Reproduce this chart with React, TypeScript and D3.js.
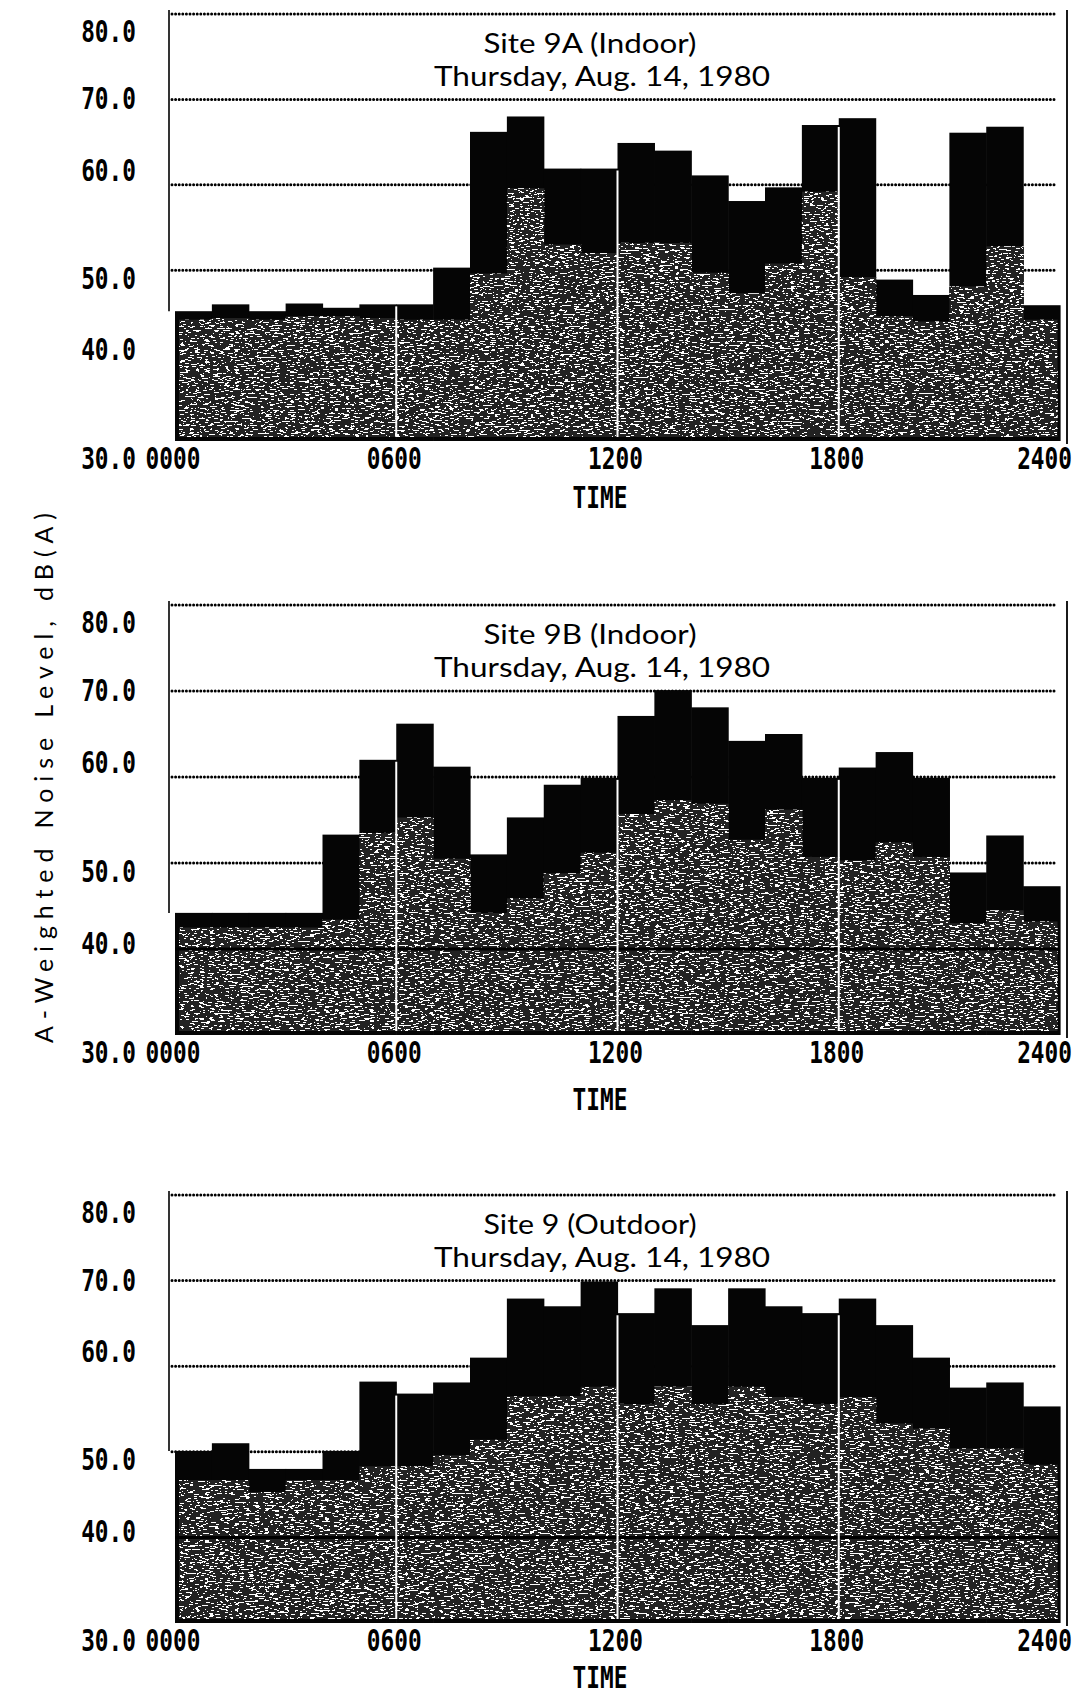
import React from "react";
import * as d3 from "d3";

// hourly bars, 0000..2300
const hours = d3.range(24);
const xTickHours = [0, 6, 12, 18, 24];
const xTickLabels = ["0000", "0600", "1200", "1800", "2400"];
const yTickLabels = ["80.0", "70.0", "60.0", "50.0", "40.0", "30.0"];
// the typed labels do not sit exactly on their levels
const yTickAt = [78.0, 70.1, 61.7, 49.1, 40.7, 28.0];
const gridLevels = [80, 70, 60, 50];

// Site 9A (Indoor): top of black bar and top of the grey part, dB(A)
const site9ATotal = [45.2, 46.0, 45.2, 46.1, 45.6, 46.0, 46.0, 50.3, 66.2, 68.0, 61.9, 61.9, 64.9, 64.0, 61.1, 58.1, 59.7, 67.0, 67.8, 48.9, 47.1, 66.1, 66.8, 45.9];
const site9ALower = [44.2, 44.4, 44.2, 44.6, 44.6, 44.4, 44.2, 44.2, 49.6, 59.6, 53.0, 52.0, 53.2, 53.2, 49.7, 47.3, 50.8, 59.2, 49.2, 44.6, 44.0, 48.1, 52.8, 44.2];

// Site 9B (Indoor)
const site9BTotal = [44.2, 44.2, 44.2, 44.2, 53.3, 62.0, 66.2, 61.2, 51.0, 55.3, 59.1, 59.9, 67.1, 70.1, 68.1, 64.2, 65.0, 59.9, 61.1, 62.9, 59.9, 48.9, 53.2, 47.3];
const site9BLower = [42.5, 42.5, 42.5, 42.5, 43.4, 53.5, 55.3, 50.5, 44.2, 45.9, 48.8, 51.2, 55.7, 57.3, 56.9, 52.7, 56.2, 50.7, 50.3, 52.4, 50.7, 43.0, 44.5, 43.2];

// Site 9 (Outdoor)
const site9Total = [50.1, 51.0, 48.0, 48.0, 50.1, 58.2, 56.8, 58.1, 61.0, 67.9, 67.0, 69.9, 66.2, 69.1, 64.8, 69.1, 67.0, 66.2, 67.9, 64.8, 61.0, 57.5, 58.1, 55.3];
const site9Lower = [46.7, 46.7, 45.3, 46.7, 46.7, 48.3, 48.3, 49.6, 51.4, 56.5, 56.5, 57.6, 55.6, 57.6, 55.6, 57.6, 56.4, 55.6, 56.4, 53.3, 52.7, 50.4, 50.4, 48.5];

const siteTitles = ["Site 9A (Indoor)", "Site 9B (Indoor)", "Site 9 (Outdoor)"];
const dateLine = "Thursday, Aug. 14, 1980";
const yTitle = "A-Weighted Noise Level, dB(A)";

const panels = [
  { title: siteTitles[0], total: site9ATotal, lower: site9ALower, top: 14, bottom: 441, timeGap: 56, rule40: false },
  { title: siteTitles[1], total: site9BTotal, lower: site9BLower, top: 605, bottom: 1035, timeGap: 64, rule40: true },
  { title: siteTitles[2], total: site9Total, lower: site9Lower, top: 1195, bottom: 1623, timeGap: 54, rule40: true },
];

// typewriter-style labels: bold mono squeezed sideways
const tickFont = '"DejaVu Sans Mono", "Liberation Mono", monospace';
const squeeze = 0.76;
const titleFont = 'Lato, "DejaVu Sans", sans-serif';

function Tick({ x, y, anchor, children }: { x: number; y: number; anchor: string; children: string }) {
  return (
    <text transform={`translate(${x},${y}) scale(${squeeze},1)`} dy="0.36em" textAnchor={anchor}
      fontFamily={tickFont} fontWeight="bold" fontSize={30}>{children}</text>
  );
}

function Panel({ p }: { p: any }) {
  const x = d3.scaleLinear().domain([0, 24]).range([175, 1060]);
  const y = d3.scaleLinear().domain([30, 80]).range([p.bottom, p.top]);
  const bw = x(1) - x(0);
  const base = y(30);

  return (
    <g>
      {/* dotted levels behind the bars */}
      {gridLevels.map((v) => (
        <line key={v} x1={x(0) - 3} x2={x(24) - 4} y1={y(v)} y2={y(v)}
          stroke="#000" strokeWidth={3} strokeLinecap="round" strokeDasharray="0,3.6" />
      ))}
      {/* frame */}
      <line x1={169} x2={169} y1={y(80) - 4} y2={y(p.total[0])} stroke="#000" strokeWidth={1.6} />
      <line x1={1067} x2={1067} y1={y(80) - 4} y2={base + 3} stroke="#000" strokeWidth={1.8} />

      {/* black: full hourly level */}
      {hours.map((h) => (
        <rect key={"t" + h} x={x(h)} y={y(p.total[h])} width={bw + 0.6}
          height={base - y(p.total[h])} fill="#050505" />
      ))}
      {/* speckled grey part */}
      <g filter="url(#speckle)">
        {hours.map((h) => (
          <rect key={"l" + h} x={x(h) + (h === 0 ? 4 : 0)} y={y(p.lower[h])}
            width={bw + 0.6 - (h === 0 ? 4 : 0) - (h === 23 ? 3 : 0)}
            height={base - 4 - y(p.lower[h])} fill="#222" />
        ))}
      </g>
      {p.rule40 && (
        <line x1={x(0)} x2={x(24)} y1={y(40)} y2={y(40)} stroke="#000" strokeWidth={3} />
      )}
      {/* white hour rules at 0600, 1200, 1800 */}
      {[6, 12, 18].map((h) => (
        <line key={"w" + h} x1={x(h)} x2={x(h)}
          y1={y(Math.min(p.total[h - 1], p.total[h])) + 2} y2={base - 4}
          stroke="#fff" strokeWidth={2} />
      ))}

      {/* title */}
      <text x={590} y={p.top + 39} textAnchor="middle" fontFamily={titleFont} fontSize={26}
        textLength={213} lengthAdjust="spacingAndGlyphs">{p.title}</text>
      <text x={602} y={p.top + 72} textAnchor="middle" fontFamily={titleFont} fontSize={26}
        textLength={336} lengthAdjust="spacingAndGlyphs">{dateLine}</text>

      {/* y labels */}
      {yTickLabels.map((t, i) => (
        <Tick key={t} x={136} y={y(yTickAt[i])} anchor="end">{t}</Tick>
      ))}
      {/* x labels */}
      {xTickHours.map((h, i) => (
        <Tick key={h} x={h === 24 ? x(h) + 12 : x(h) - 2} y={base + 17}
          anchor={h === 24 ? "end" : "middle"}>{xTickLabels[i]}</Tick>
      ))}
      <Tick x={600} y={base + p.timeGap} anchor="middle">TIME</Tick>
    </g>
  );
}

export default function App() {
  return (
    <svg width={1080} height={1695} style={{ position: "absolute", left: 0, top: 0, background: "#fff" }}>
      <defs>
        <filter id="speckle" filterUnits="userSpaceOnUse" x={0} y={0} width={1080} height={1695}>
          <feTurbulence type="fractalNoise" baseFrequency="0.2 0.75" numOctaves={2} seed={7} result="noise" />
          <feColorMatrix in="noise" type="matrix"
            values="0 0 0 0 1  0 0 0 0 1  0 0 0 0 1  1 0 0 0 0" result="white" />
          <feComponentTransfer in="white" result="dots">
            <feFuncA type="discrete" tableValues="0 0 0 0 0 0 0 0 0 0 0 0 1 1 1 1 1 1 1 1" />
          </feComponentTransfer>
          <feComposite in="dots" in2="SourceAlpha" operator="in" result="clipped" />
          <feMerge>
            <feMergeNode in="SourceGraphic" />
            <feMergeNode in="clipped" />
          </feMerge>
        </filter>
      </defs>
      {panels.map((p, i) => (
        <Panel key={i} p={p} />
      ))}
      <text transform="translate(44,778) rotate(-90)" textAnchor="middle" dy="0.36em"
        fontFamily={titleFont} fontSize={25} textLength={530} lengthAdjust="spacing">{yTitle}</text>
    </svg>
  );
}
